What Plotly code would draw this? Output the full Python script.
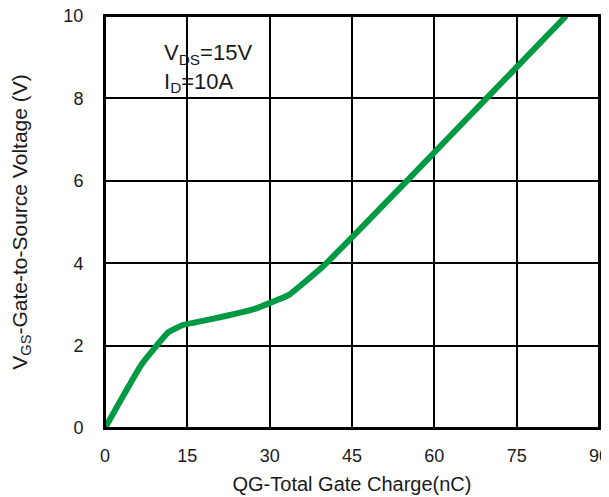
import plotly.graph_objects as go

qg_nc = [0, 6.6, 11.5, 14.2, 20, 27, 30, 33.5, 39.7, 47, 55, 69.5, 84]
vgs_v = [0, 1.53, 2.32, 2.5, 2.66, 2.88, 3.03, 3.23, 3.92, 4.9, 6.0, 8.0, 10.0]
x_ticks = [0, 15, 30, 45, 60, 75, 90]
y_ticks = [0, 2, 4, 6, 8, 10]

FAM = "Liberation Sans, Arial, sans-serif"
INK = "#1a1a1a"

fig = go.Figure()
fig.add_trace(go.Scatter(x=qg_nc, y=vgs_v, mode="lines",
                         line=dict(color="#009a44", width=6, shape="spline", smoothing=0.3),
                         showlegend=False, hoverinfo="skip", cliponaxis=False))

# page body adds an 8px offset; margins compensate so the plot area lands at 105..599 x 16..428
fig.update_layout(
    width=609, height=497,
    margin=dict(l=97, r=18, t=8, b=77),
    paper_bgcolor="white", plot_bgcolor="white",
    font=dict(family=FAM, size=18, color=INK),
    xaxis=dict(range=[0, 90], tickvals=x_ticks, showgrid=True, gridcolor="black", gridwidth=2,
               showline=True, linecolor="black", linewidth=2, mirror=True, zeroline=False,
               ticks="", ticklabelstandoff=10, automargin=False, ticklabeloverflow="allow",
               tickfont=dict(family=FAM, size=18, color=INK),
               title=dict(text="QG-Total Gate Charge(nC)", standoff=12,
                          font=dict(family=FAM, size=20, color=INK))),
    yaxis=dict(range=[0, 10], tickvals=y_ticks, showgrid=True, gridcolor="black", gridwidth=2,
               showline=True, linecolor="black", linewidth=2, mirror=True, zeroline=False,
               ticks="", ticklabelstandoff=16, automargin=False, ticklabeloverflow="allow",
               tickfont=dict(family=FAM, size=18, color=INK),
               title=dict(text="V<sub>GS</sub>-Gate-to-Source Voltage (V)", standoff=40,
                          font=dict(family=FAM, size=21, color=INK))),
    shapes=[dict(type="rect", xref="paper", yref="paper", x0=0.09, x1=0.31, y0=0.825, y1=0.971,
                 fillcolor="white", line=dict(width=0), layer="below"),
            dict(type="rect", xref="paper", yref="paper", x0=0, x1=1, y0=0, y1=1,
                 line=dict(color="black", width=2), layer="above")],
    annotations=[dict(x=0.115, y=0.947, xref="paper", yref="paper", xanchor="left", yanchor="top",
                      text="V<sub>DS</sub>=15V<br>I<sub>D</sub>=10A", showarrow=False, align="left",
                      font=dict(family=FAM, size=22, color=INK))],
)
fig.write_html("out.html")
